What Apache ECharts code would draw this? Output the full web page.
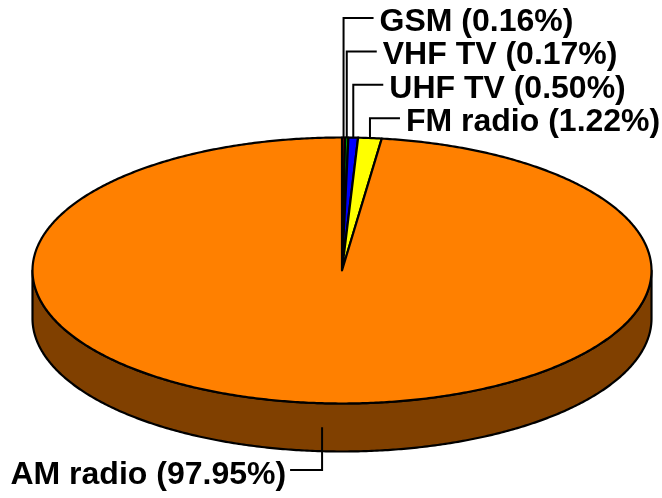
<!DOCTYPE html>
<html>
<head>
<meta charset="utf-8">
<title>Pie</title>
<script src="https://cdn.jsdelivr.net/npm/echarts@6.0.0/dist/echarts.min.js"></script>
<style>
  html, body { margin: 0; padding: 0; background: #fff; }
  #main { width: 662px; height: 498px; }
</style>
</head>
<body>
<div id="main"></div>
<script>
// data (percent), clockwise from 12 o'clock
var names = ['GSM', 'VHF TV', 'UHF TV', 'FM radio', 'AM radio'];
var shares = [0.16, 0.17, 0.50, 1.22, 97.95];
var topColors = ['#800000', '#00a000', '#0000ff', '#ffff00', '#ff8000'];
var sideColors = ['#400000', '#005000', '#000080', '#808000', '#804000'];

var total = shares.reduce(function (a, b) { return a + b; }, 0);
var startAt = [];
var acc = 0;
shares.forEach(function (v) { startAt.push(acc); acc += v; });

// pie geometry
var cx = 342, cy = 270.5, rx = 309.5, ry = 133, depth = 48;
var FONT = 'bold 32px "Liberation Sans", Arial, sans-serif';

function pt(a, dy) {
    // a: degrees clockwise from top
    var r = a * Math.PI / 180;
    return [cx + rx * Math.sin(r), cy - ry * Math.cos(r) + (dy || 0)];
}
function arc(a0, a1, dy) {
    var pts = [];
    var n = Math.max(2, Math.ceil(Math.abs(a1 - a0) / 0.5));
    for (var i = 0; i <= n; i++) pts.push(pt(a0 + (a1 - a0) * i / n, dy));
    return pts;
}

var backRow = 0;
function renderItem(params, api) {
    var i = params.dataIndex;
    if (i === 0) backRow = 0;
    var v = api.value(0);
    var a0 = startAt[i] / total * 360;
    var a1 = (startAt[i] + v) / total * 360;
    var children = [];

    // side wall, only the front half is visible
    var s0 = Math.max(a0, 90), s1 = Math.min(a1, 270);
    if (s0 < s1) {
        var side = arc(s0, s1, 0).concat(arc(s1, s0, depth));
        children.push({
            type: 'polygon', z2: 1,
            shape: { points: side },
            style: { fill: sideColors[i], stroke: '#000', lineWidth: 2.2, lineJoin: 'round' }
        });
    }

    // top face
    var top = [[cx, cy]].concat(arc(a0, a1, 0));
    children.push({
        type: 'polygon', z2: 2,
        shape: { points: top },
        style: { fill: topColors[i], stroke: '#000', lineWidth: 2.2, lineJoin: 'round' }
    });

    // label + leader
    var mid = (a0 + a1) / 2;
    var label = names[i] + ' (' + v.toFixed(2) + '%)';
    var line, tx, ty, align;
    if (Math.cos(mid * Math.PI / 180) > 0) {
        var p = pt(mid, 0);
        var ly = 18 + backRow * 33.4;
        backRow++;
        line = [p, [p[0], ly], [p[0] + 30, ly]];
        tx = p[0] + 36; ty = ly + 4; align = 'left';
    } else {
        var q = pt(mid, depth / 2);
        var ly2 = cy + ry + depth + 18.5;
        var dir = Math.sin(mid * Math.PI / 180) < 0 ? -1 : 1;
        line = [q, [q[0], ly2], [q[0] + dir * 32, ly2]];
        tx = q[0] + dir * 36; ty = ly2 + 5; align = dir < 0 ? 'right' : 'left';
    }
    children.push({
        type: 'polyline', z2: 3,
        shape: { points: line },
        style: { stroke: '#000', lineWidth: 2, fill: null }
    });
    children.push({
        type: 'text', z2: 4,
        style: { text: label, x: tx, y: ty, font: FONT, fill: '#000', align: align, verticalAlign: 'middle' }
    });

    return { type: 'group', children: children };
}

var chart = echarts.init(document.getElementById('main'));
chart.setOption({
    animation: false,
    backgroundColor: '#fff',
    series: [{
        type: 'custom',
        coordinateSystem: 'none',
        renderItem: renderItem,
        data: shares.map(function (v, i) { return { name: names[i], value: [v] }; })
    }]
});
</script>
</body>
</html>
